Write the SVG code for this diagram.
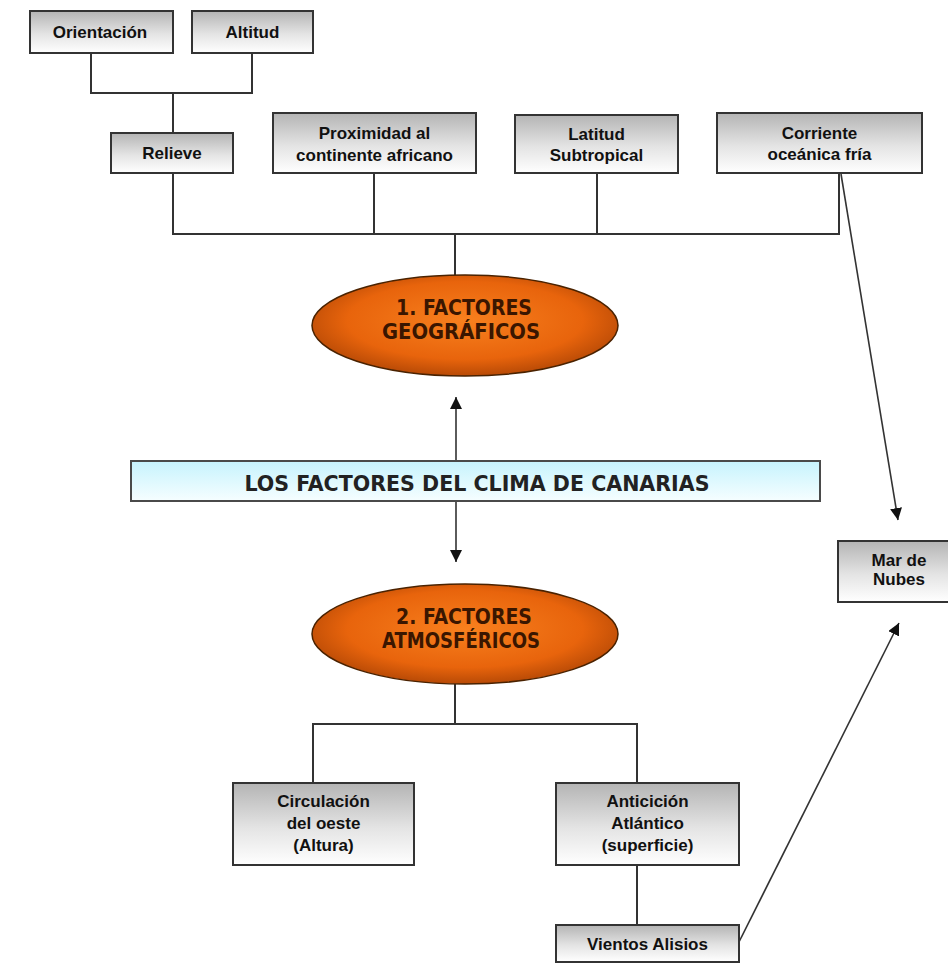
<svg xmlns="http://www.w3.org/2000/svg" width="948" height="964" viewBox="0 0 948 964">
<defs>
<linearGradient id="boxg" x1="0" y1="0" x2="0" y2="1">
<stop offset="0" stop-color="#b4b4b4"/>
<stop offset="0.55" stop-color="#e4e4e4"/>
<stop offset="1" stop-color="#ffffff"/>
</linearGradient>
<linearGradient id="bang" x1="0" y1="0" x2="0" y2="1">
<stop offset="0" stop-color="#c6f3fd"/>
<stop offset="1" stop-color="#f6feff"/>
</linearGradient>
<radialGradient id="ellg" cx="0.5" cy="0.45" r="0.55">
<stop offset="0" stop-color="#f8801e"/>
<stop offset="0.7" stop-color="#e8640c"/>
<stop offset="1" stop-color="#b84a06"/>
</radialGradient>
<marker id="ah" viewBox="0 0 10 10" refX="10" refY="5" markerWidth="12" markerHeight="12" markerUnits="userSpaceOnUse" orient="auto">
<path d="M0,0 L10,5 L0,10 Z" fill="#111"/>
</marker>
<style>
.box{fill:url(#boxg);stroke:#333;stroke-width:2}
.t{font-family:"Liberation Sans",Arial,sans-serif;font-weight:bold;font-size:17px;fill:#111;text-anchor:middle}
.ell{fill:url(#ellg);stroke:#4a2200;stroke-width:1.5}
.et{font-family:"DejaVu Sans Condensed","DejaVu Sans",sans-serif;font-stretch:condensed;font-weight:bold;font-size:21px;fill:#3a1600;text-anchor:middle}
.ln{fill:none;stroke:#333;stroke-width:2}
.ar{fill:none;stroke:#333;stroke-width:1.6;marker-end:url(#ah)}
</style>
</defs>
<rect width="948" height="964" fill="#ffffff"/>

<g id="connectors">
<polyline class="ln" points="91,53 91,93 252,93 252,53"/>
<line class="ln" x1="173" y1="93" x2="173" y2="133"/>
<polyline class="ln" points="173,173 173,234 839,234 839,173"/>
<line class="ln" x1="374" y1="173" x2="374" y2="234"/>
<line class="ln" x1="597" y1="173" x2="597" y2="234"/>
<line class="ln" x1="455" y1="234" x2="455" y2="275"/>
<line class="ar" x1="456" y1="461" x2="456" y2="397"/>
<line class="ar" x1="456" y1="501" x2="456" y2="562"/>
<line class="ar" x1="841" y1="174" x2="898" y2="520"/>
<line class="ar" x1="739" y1="942" x2="899" y2="623"/>
<line class="ln" x1="455" y1="684" x2="455" y2="724"/>
<polyline class="ln" points="313,783 313,724 637,724 637,783"/>
<line class="ln" x1="637" y1="865" x2="637" y2="925"/>
</g>

<g id="orientacion">
<rect class="box" x="30" y="11" width="143" height="42"/>
<text class="t" x="100" y="38">Orientación</text>
</g>
<g id="altitud">
<rect class="box" x="192" y="11" width="121" height="42"/>
<text class="t" x="252.5" y="38">Altitud</text>
</g>
<g id="relieve">
<rect class="box" x="111" y="133" width="122" height="40"/>
<text class="t" x="172" y="159">Relieve</text>
</g>
<g id="proximidad">
<rect class="box" x="273" y="113" width="203" height="60"/>
<text class="t" x="374.5" y="139">Proximidad al</text>
<text class="t" x="374.5" y="161">continente africano</text>
</g>
<g id="latitud">
<rect class="box" x="515" y="115" width="163" height="58"/>
<text class="t" x="596.5" y="140">Latitud</text>
<text class="t" x="596.5" y="161">Subtropical</text>
</g>
<g id="corriente">
<rect class="box" x="717" y="113" width="205" height="60"/>
<text class="t" x="819.5" y="139">Corriente</text>
<text class="t" x="819.5" y="160">oceánica fría</text>
</g>

<g id="factores-geograficos">
<ellipse class="ell" cx="465" cy="325.5" rx="153" ry="50.5"/>
<text class="et" x="464" y="315">1. FACTORES</text>
<text class="et" x="461" y="339" textLength="158" lengthAdjust="spacingAndGlyphs">GEOGRÁFICOS</text>
</g>

<g id="titulo">
<rect x="131" y="461" width="689" height="40" fill="url(#bang)" stroke="#4a4a4a" stroke-width="2"/>
<text x="477" y="491" font-family="'DejaVu Sans Condensed','DejaVu Sans',sans-serif" font-stretch="condensed" font-weight="bold" font-size="22" fill="#222" text-anchor="middle" textLength="465" lengthAdjust="spacingAndGlyphs">LOS FACTORES DEL CLIMA DE CANARIAS</text>
</g>

<g id="mar-de-nubes">
<rect class="box" x="838" y="541" width="122" height="61"/>
<text class="t" x="899" y="566">Mar de</text>
<text class="t" x="899" y="585">Nubes</text>
</g>

<g id="factores-atmosfericos">
<ellipse class="ell" cx="465" cy="634" rx="153" ry="50"/>
<text class="et" x="464" y="624">2. FACTORES</text>
<text class="et" x="461" y="648" textLength="158" lengthAdjust="spacingAndGlyphs">ATMOSFÉRICOS</text>
</g>

<g id="circulacion">
<rect class="box" x="233" y="783" width="181" height="82"/>
<text class="t" x="323.5" y="807">Circulación</text>
<text class="t" x="323.5" y="829">del oeste</text>
<text class="t" x="323.5" y="851">(Altura)</text>
</g>
<g id="anticiclon">
<rect class="box" x="556" y="783" width="183" height="82"/>
<text class="t" x="647.5" y="807">Anticición</text>
<text class="t" x="647.5" y="829">Atlántico</text>
<text class="t" x="647.5" y="851">(superficie)</text>
</g>
<g id="vientos">
<rect class="box" x="556" y="925" width="183" height="37"/>
<text class="t" x="647.5" y="950">Vientos Alisios</text>
</g>
</svg>
